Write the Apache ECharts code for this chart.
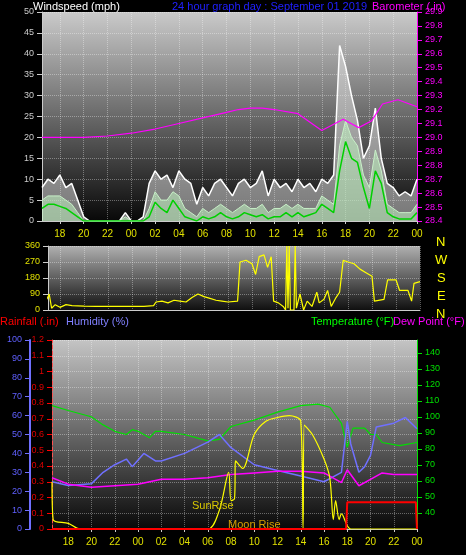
<!DOCTYPE html>
<html><head><meta charset="utf-8">
<script src="https://cdn.jsdelivr.net/npm/echarts@6/dist/echarts.min.js"></script>
<style>html,body{margin:0;background:#000}#c{width:466px;height:555px}</style></head>
<body><div id="c"></div>
<script>
// time in hours from 00:00 of previous day
const windTimes=[16.5,17,17.5,18,18.5,19,19.5,20,20.5,21,21.5,22,22.5,23,23.5,24,24.5,25,25.5,26,26.5,27,27.5,28,28.5,29,29.5,30,30.5,31,31.5,32,32.5,33,33.5,34,34.5,35,35.5,36,36.5,37,37.5,38,38.5,39,39.5,40,40.5,41,41.5,42,42.5,43,43.5,44,44.5,45,45.5,46,46.5,47,47.5,48];
const windGust=[8,10,9,11,8,9,5,1,0,0,0,0,0,0,2,0,0,1,9,12,10,11,8,12,10,9,4,8,6,9,10,8,6,9,10,8,9,12,6,10,8,9,7,10,8,9,7,10,9,11,42,37,30,24,15,18,27,15,9,8,6,7,6,10];
const windSpeed=[5,6,6,6,5,4,2,0,0,0,0,0,0,0,1,0,0,0,3,7,5,5,7,6,3,2,1,3,2,3,4,3,2,3,4,3,3,4,2,3,3,4,3,4,3,3,3,6,5,4,18,24,20,18,11,8,17,12,4,3,2,2,2,4];
const windAvg=[3,4,4,3.5,3,2,1,0,0,0,0,0,0,0,0,0,0,0,1,4.5,3,2,5,3,1,0.5,0,1,0.5,1,2,1,0.5,1,2,1.5,1,1.5,0.5,1,1,2,1,2,1,1.5,2,4,3,2,12,19,15,14,8,3,12,9,2,1,0.5,0.5,0.5,2];
const baroTimes=[16.5,18,20,22,24,26,28,30,32,33,34,35,36,38,40,41.8,43.1,44.2,45.1,46.4,48];
const baro=[29.0,29.0,29.0,29.01,29.03,29.06,29.1,29.14,29.18,29.2,29.21,29.21,29.2,29.17,29.05,29.13,29.07,29.12,29.24,29.27,29.22];
const dirTimes=[16.6,16.7,16.9,17.1,17.3,17.6,18,18.5,19,20,21,22,23,24,25,25.8,26,26.5,27,27.5,28,28.5,29,29.5,30,30.5,31,31.5,32,32.8,33,33.5,34,34.3,34.6,35,35.3,35.6,35.8,36.2,36.6,36.8,36.9,37,37.1,37.2,37.5,37.6,37.7,38,38.3,38.6,39,39.4,39.6,40,40.3,40.6,41,41.3,41.6,42,42.5,43,43.5,44,44.2,45,45.3,46,46.3,47,47.3,47.5,48];
const dir=[350,100,60,90,10,30,15,30,25,22,20,20,20,20,20,25,45,50,40,55,50,45,70,90,75,65,55,50,45,50,270,280,260,200,300,310,240,300,50,40,20,0,360,10,360,0,0,360,10,90,0,50,20,100,40,60,110,20,70,100,280,270,260,230,210,190,50,60,170,170,110,110,50,150,160];
const tempTimes=[16.6,18,19.5,20,21,22,23,23.5,24,25,25.5,26,28,30,31,32,34,36,38,39.5,40.5,41.5,42,42.5,43.5,44,44.5,45,46.5,48];
const temp=[107,104,101,100,95,91,89,92,91,87,91,91,89,85,86,94,98,103,107,108,106,96,81,93,93,89,89,84,82,84];
const humTimes=[16.6,18,20,21,22,23,23.5,24.5,25.5,26,28,30,31,32,34,36,38,40,41.5,42,42.3,43,43.5,44,44.5,46,47,48];
const hum=[25,23,24,30,34,37,33,40,36,36,40,46,50,43,34,31,28,25,30,57,45,30,33,39,54,56,59,53];
const dewTimes=[16.6,18,20,22,24,26,28,30,32,34,36,38,40,41.5,42,43,44,45,46,48];
const dew=[62,58,56,57,58,61,61,62,64,65,66,66,65,59,67,57,61,65,64,64];
const solarTimes=[16.6,16.7,18,19,30,31,31.8,32,32.3,32.4,33,34,35,36,37,38,38.2,38.3,39,40,40.5,40.8,41,41.3,41.5,42.3,48];
const solar=[25,5,3,0,0,10,30,15,16,36,32,50,57,59,60,57,0,55,50,37,27,5,15,5,8,0,0];
const rainTimes=[16.6,41.9,42,47.9,48];
const rain=[0,0,0.17,0.17,0];
const hourTicks=[18,20,22,24,26,28,30,32,34,36,38,40,42,44,46,48];
const tempTicks=[40,50,60,70,80,90,100,110,120,130,140];

const z=(t,v)=>t.map((x,i)=>[x,v[i]]);
const F='Liberation Sans';
const hh=v=>String(Math.round(v)%24).padStart(2,'0');
const grad=(a,b)=>({type:'linear',x:0,y:0,x2:0,y2:1,colorStops:[{offset:0,color:a},{offset:1,color:b}]});
const gl={show:true,lineStyle:{color:'rgba(255,255,255,0.35)',type:'dotted'}};
const xa=(gi,min,lab)=>({type:'value',gridIndex:gi,min:min,max:48,
 axisLine:{show:true,lineStyle:{color:'#ccc'}},
 axisTick:{show:lab,customValues:hourTicks,lineStyle:{color:'#ccc'},length:3},
 axisLabel:{show:lab,customValues:hourTicks,formatter:hh,color:'#e0e000',fontFamily:F,fontSize:10,margin:8},
 splitLine:Object.assign({},gl),
 });
const ch=echarts.init(document.getElementById('c'));
const T=(x,y,s,c,sz)=>({type:'text',left:x,top:y,z:100,style:{text:s,fill:c,font:(sz||11)+'px '+F}});
ch.setOption({
 backgroundColor:'#000',animation:false,
 graphic:[T(33,1,'Windspeed (mph)','#fff'),T(172,1,'24 hour graph day : September 01 2019','#2020ff'),T(372,1,'Barometer (.in)','#ff00ff'),
  T(0,316,'Rainfall (.in)','#ff0000'),T(66,316,'Humidity (%)','#8080ff'),T(311,316,'Temperature (°F)','#00ff00'),T(393,316,'Dew Point (°F)','#ff00ff'),
  T(436,236,'N','#ffff00',13),T(435,254,'W','#ffff00',13),T(437,272,'S','#ffff00',13),T(437,290,'E','#ffff00',13),T(436,308,'N','#ffff00',13),
  T(192,500,'SunRise','#d8c800'),T(228,519,'Moon Rise','#d8a000')],
 grid:[{left:42,width:375,top:12,height:209,show:true,borderWidth:0,backgroundColor:grad('#cacaca','#080808')},
  {left:48,width:372,top:246,height:64,show:true,borderWidth:0,backgroundColor:grad('#b0b0b0','#101010')},
  {left:52,width:365,top:340,height:189,show:true,borderWidth:0,backgroundColor:grad('#c4c4c4','#080808')}],
 xAxis:[xa(0,16.5,true),xa(1,17,false),xa(2,16.6,true)],
 yAxis:[
  {type:'value',gridIndex:0,position:'left',min:0,max:50,interval:5,axisLine:{show:true,lineStyle:{color:'#ccc'}},axisTick:{show:true,lineStyle:{color:'#ccc'}},axisLabel:{color:'#ccc',fontFamily:F,fontSize:9},splitLine:gl},
  {type:'value',gridIndex:0,position:'right',min:28.4,max:29.9,interval:0.1,axisLine:{show:true,lineStyle:{color:'#ff00ff'}},axisTick:{show:true,lineStyle:{color:'#ff00ff'}},axisLabel:{color:'#ff00ff',fontFamily:F,fontSize:9,formatter:v=>v.toFixed(1)},splitLine:{show:false}},
  {type:'value',gridIndex:1,position:'left',min:0,max:360,interval:90,axisLine:{show:true,lineStyle:{color:'#ccc'}},axisTick:{show:true,lineStyle:{color:'#ccc'}},axisLabel:{color:'#e0e000',fontFamily:F,fontSize:9},splitLine:gl},
  {type:'value',gridIndex:2,position:'left',min:0,max:1.2,interval:0.1,axisLine:{show:true,lineStyle:{color:'#ff5050',type:'dashed'}},axisTick:{show:true,lineStyle:{color:'#ff0000'}},axisLabel:{color:'#e00000',fontFamily:F,fontSize:9,formatter:v=>v===0?'0':+v.toFixed(1)+''},splitLine:gl},
  {type:'value',gridIndex:2,position:'left',min:0,max:100,interval:10,offset:22,axisLine:{show:true,lineStyle:{color:'#7070ff',width:2}},axisTick:{show:true,lineStyle:{color:'#7070ff'}},axisLabel:{color:'#6060ff',fontFamily:F,fontSize:9},splitLine:{show:false}},
  {type:'value',gridIndex:2,position:'right',min:30,max:148,axisLine:{show:true,lineStyle:{color:'#00e000'}},axisTick:{show:true,customValues:tempTicks,lineStyle:{color:'#00e000'}},axisLabel:{customValues:tempTicks,color:'#00e000',fontFamily:F,fontSize:9},splitLine:{show:false}}
 ],
 series:[
  {type:'line',xAxisIndex:0,yAxisIndex:0,data:z(windTimes,windGust),symbol:'none',lineStyle:{color:'#fff',width:1.5},areaStyle:{color:'rgba(235,235,235,0.7)'}},
  {type:'line',xAxisIndex:0,yAxisIndex:0,data:z(windTimes,windSpeed),symbol:'none',lineStyle:{color:'#c8f0c8',width:1},areaStyle:{color:'rgba(190,240,190,0.8)'}},
  {type:'line',xAxisIndex:0,yAxisIndex:0,data:z(windTimes,windAvg),symbol:'none',lineStyle:{color:'#00d000',width:1.5}},
  {type:'line',xAxisIndex:0,yAxisIndex:1,data:z(baroTimes,baro),symbol:'none',lineStyle:{color:'#ff00ff',width:1.2}},
  {type:'line',xAxisIndex:1,yAxisIndex:2,data:z(dirTimes,dir),symbol:'none',lineStyle:{color:'#ffff00',width:1.2}},
  {type:'line',xAxisIndex:2,yAxisIndex:5,data:z(tempTimes,temp),symbol:'none',lineStyle:{color:'#00e000',width:1.2}},
  {type:'line',xAxisIndex:2,yAxisIndex:4,data:z(humTimes,hum),symbol:'none',lineStyle:{color:'#7070ff',width:1.5}},
  {type:'line',xAxisIndex:2,yAxisIndex:5,data:z(dewTimes,dew),symbol:'none',lineStyle:{color:'#ff00ff',width:1.5}},
  {type:'line',xAxisIndex:2,yAxisIndex:4,data:z(solarTimes,solar),symbol:'none',smooth:0.3,lineStyle:{color:'#ffff00',width:1.2}},
  {type:'line',xAxisIndex:2,yAxisIndex:3,data:z(rainTimes,rain),symbol:'none',lineStyle:{color:'#ff0000',width:2}}
 ]
});
</script></body></html>
